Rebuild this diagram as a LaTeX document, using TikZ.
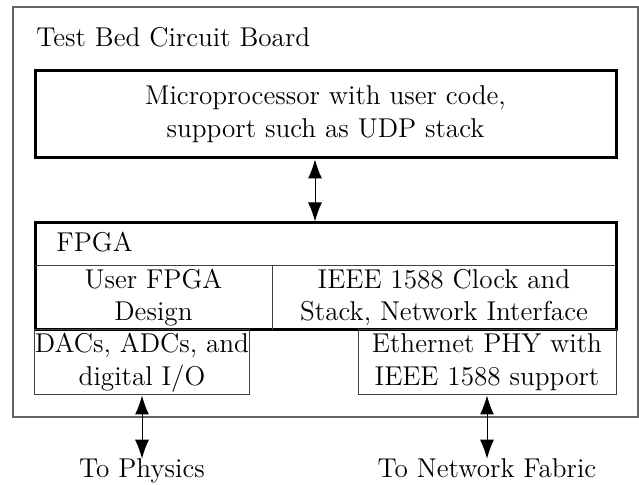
\documentclass[tikz,border=0pt]{standalone}
\usetikzlibrary{arrows.meta,calc}
\begin{document}
\begin{tikzpicture}[x=0.5pt,y=-0.5pt,
  every node/.style={font=\fontsize{13.6}{16.4}\selectfont},
  thickbox/.style={draw=black,line width=1.5pt,rectangle,inner sep=0pt,align=center},
  thinbox/.style={draw=black!75,line width=0.5pt,rectangle,inner sep=0pt,align=center},
  label/.style={inner sep=0pt,align=center},
  arr/.style={line width=0.5pt,{Latex[length=9.5pt,width=7pt]}-{Latex[length=9.5pt,width=7pt]}}]
\useasboundingbox (0,0) rectangle (639,485);
% outer board
\node[draw=black!60,line width=0.6pt,rectangle,inner sep=0pt,minimum width=312.5pt,minimum height=205pt] (board) at (325.5,212) {};
\node[label,anchor=base west] (title) at (36,47) {Test Bed Circuit Board};
% microprocessor
\node[thickbox,minimum width=290.5pt,minimum height=43.5pt] (micro) at (325.5,114.5)
  {Microprocessor with user code,\\support such as UDP stack};
% FPGA
\node[thickbox,minimum width=290.5pt,minimum height=53.5pt] (fpga) at (325.5,276.5) {};
\draw[black!75,line width=0.5pt] (35,266) -- (616,266);
\draw[black!75,line width=0.5pt] (272,266) -- (272,330);
\node[label,anchor=base west] (fpgalbl) at (56,252) {FPGA};
\node[label] (user) at (153.5,297.5) {User FPGA\\Design};
\node[label] (ieee) at (444,297.5) {IEEE 1588 Clock and\\Stack, Network Interface};
% lower chips
\node[thinbox,minimum width=107pt,minimum height=32.5pt] (dacs) at (142,362.5) {DACs, ADCs, and\\digital I/O};
\node[thinbox,minimum width=129pt,minimum height=32.5pt] (eth) at (487,362.5) {Ethernet PHY with\\IEEE 1588 support};
% outside labels
\node[label,anchor=base] (tophys) at (142,478) {To Physics};
\node[label,anchor=base] (tonet) at (487,478) {To Network Fabric};
% connectors
\coordinate (mx) at (315,0);
\draw[arr] (micro.south -| mx) -- (fpga.north -| mx);
\draw[arr] (dacs.south) -- (tophys.north);
\draw[arr] (eth.south) -- (tonet.north);
\end{tikzpicture}
\end{document}
